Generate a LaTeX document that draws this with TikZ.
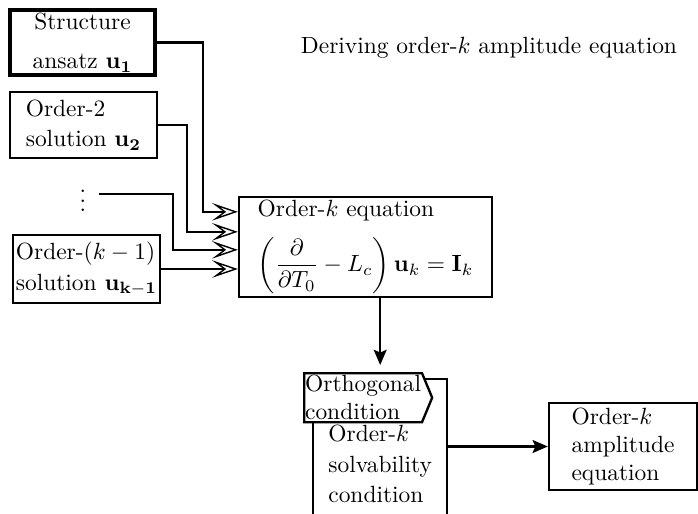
\documentclass[tikz,border=0pt]{standalone}
\usepackage{amsmath}
\usetikzlibrary{arrows.meta, positioning, calc, shapes.symbols}
\tikzset{
  box/.style={draw, line width=1pt, inner sep=1pt, align=left},
  boxthick/.style={box, line width=1.8pt, align=center},
  tab/.style={box, inner sep=0.4pt, fill=white, shape=signal, signal to=east,
              signal pointer angle=135},
  %
  feed/.style={draw, line width=1pt,
               -{Stealth[open, length=11pt, width=7.5pt, inset=5pt,
                         line width=0.6pt]}},
  flow/.style={draw, line width=1pt,
               -{Stealth[length=6.5pt, width=5.5pt, inset=1.2pt]}},
}

\begin{document}
\begin{tikzpicture}[x=0.015cm, y=-0.015cm]
  \useasboundingbox (0,0) rectangle (698,513);
  \clip (0,0) rectangle (698,513);

  % inputs
  \node[boxthick, minimum width=2.175cm, minimum height=0.975cm] (ansatz)
    at (82.5,42.5) {Structure\\[5pt]ansatz $\mathbf{u_1}$};
  \node[box, minimum width=2.205cm, minimum height=0.99cm] (sol2)
    at (83.5,125) {Order-2\\[1pt]solution $\mathbf{u_2}$};
  \node[inner sep=1pt] (dots) at (83,194) {$\vdots$};
  \node[box, minimum width=2.205cm, minimum height=1.02cm] (solk)
    at (86.5,269) {Order-$(k-1)$\\[1pt]solution $\mathbf{u_{k-1}}$};

  \node (title) at (489,48) {Deriving order-$k$ amplitude equation};

  % order-k equation
  \node[box, minimum width=3.795cm, minimum height=1.5cm] (eq)
    at (365.5,247)
    {Order-$k$ equation\\[6pt]
     $\left(\dfrac{\partial}{\partial T_0}-L_c\right)\mathbf{u}_k=\mathbf{I}_k$};

  \coordinate (e1) at ($(eq.north west)+(0,16)$);
  \coordinate (e2) at ($(eq.north west)+(0,36)$);
  \coordinate (e3) at ($(eq.north west)+(0,54)$);

  \draw[feed] (ansatz.east) -- ++(46,0) |- (e1);
  \draw[feed] (sol2.east) -- ++(29,0) |- (e2);
  \draw[feed] (dots.east) ++(10,0) -- ++(74,0) |- (e3);
  \draw[feed] (solk.east) -- (solk.east -| eq.west);

  % solvability
  \node[box, minimum width=2.01cm, minimum height=2.55cm, anchor=north west,
        align=left] (solv) at (312,378)
    {Order-$k$\\[1pt]solvability\\[1pt]condition};
  \node[tab, minimum width=1.875cm, minimum height=0.735cm,
        anchor=north west] (orth) at (303,372) {Orthogonal\\condition};

  \node[box, minimum width=2.22cm, minimum height=1.305cm] (amp)
    at (623,446.5) {Order-$k$\\amplitude\\equation};

  \draw[flow] (eq.south -| solv.north) -- ($(solv.north)+(0,-13)$);
  \draw[flow] (solv.east |- amp.west) -- (amp.west);

\end{tikzpicture}
\end{document}
